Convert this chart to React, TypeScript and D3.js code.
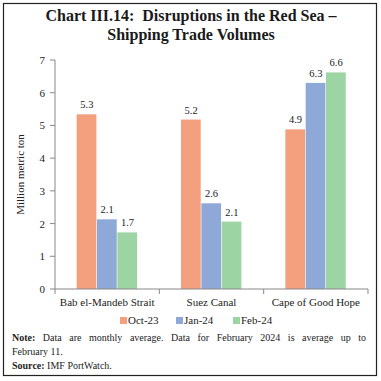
import React, { useMemo } from "react";
import * as d3 from "d3";

const categories = ["Bab el-Mandeb Strait", "Suez Canal", "Cape of Good Hope"];
const seriesNames = ["Oct-23", "Jan-24", "Feb-24"];
const oct23 = [5.34, 5.18, 4.88];
const jan24 = [2.13, 2.62, 6.3];
const feb24 = [1.73, 2.06, 6.62];
const labelsOct = ["5.3", "5.2", "4.9"];
const labelsJan = ["2.1", "2.6", "6.3"];
const labelsFeb = ["1.7", "2.1", "6.6"];
const yTicks = [0, 1, 2, 3, 4, 5, 6, 7];
const colors = ["#F4A07F", "#8EA9D8", "#9DD4A4"];

const W = 381;
const H = 381;
const left = 55;
const right = 368;
const top = 60;
const bottom = 289;
const font = "'Liberation Serif', 'DejaVu Serif', serif";
const noteRest = " Data are monthly average. Data for February 2024 is average up to";

export default function App() {
  const series = [oct23, jan24, feb24];
  const labels = [labelsOct, labelsJan, labelsFeb];
  const x0 = d3.scaleBand<string>().domain(categories).range([left, right]).paddingInner(0).paddingOuter(0);
  const y = d3.scaleLinear().domain([0, 7]).range([bottom, top]);
  const groupW = 61;
  const x1 = d3.scaleBand<string>().domain(seriesNames).range([0, groupW]).padding(0);
  const bw = x0.bandwidth();
  const legendX = [120, 176, 233];

  const wordSpacing = useMemo(() => {
    try {
      const c = document.createElement("canvas").getContext("2d");
      if (!c) return 2.5;
      c.font = "bold 10px 'Liberation Serif'";
      const wb = c.measureText("Note:").width;
      c.font = "10px 'Liberation Serif'";
      const wr = c.measureText(noteRest).width;
      const spaces = (noteRest.match(/ /g) || []).length;
      return Math.max(0, (354 - wb - wr) / spaces);
    } catch (e) {
      return 2.5;
    }
  }, []);

  return (
    <svg width={W} height={H} style={{ position: "absolute", left: 0, top: 0, background: "#fff" }}>
      <rect x={3.5} y={3.5} width={373} height={372} fill="#fff" stroke="#222" strokeWidth={1.2} />
      <text x={191} y={21} textAnchor="middle" fontFamily={font} fontWeight="bold" fontSize={16} fill="#1a1a1a" style={{ whiteSpace: "pre" }}>
        Chart III.14:  Disruptions in the Red Sea –
      </text>
      <text x={191} y={40} textAnchor="middle" fontFamily={font} fontWeight="bold" fontSize={16} fill="#1a1a1a">
        Shipping Trade Volumes
      </text>

      {series.map((vals, si) =>
        categories.map((c, ci) => {
          const gx = (x0(c) as number) + (bw - groupW) / 2;
          const bx = gx + (x1(seriesNames[si]) as number);
          return (
            <g key={`${si}-${ci}`}>
              <rect x={bx} y={y(vals[ci])} width={x1.bandwidth() - 0.6} height={bottom - y(vals[ci])} fill={colors[si]} />
              <text x={bx + x1.bandwidth() / 2} y={y(vals[ci]) - 6} textAnchor="middle" fontFamily={font} fontSize={10.5} fill="#222">
                {labels[si][ci]}
              </text>
            </g>
          );
        })
      )}

      {/* y axis */}
      <line x1={left} x2={left} y1={top} y2={bottom} stroke="#888" strokeWidth={1} />
      {yTicks.map((t) => (
        <g key={t}>
          <line x1={left - 5} x2={left} y1={y(t)} y2={y(t)} stroke="#888" />
          <text x={left - 10} y={y(t) + 4} textAnchor="end" fontFamily={font} fontSize={11} fill="#222">
            {t}
          </text>
        </g>
      ))}
      <text transform={`translate(24,${(top + bottom) / 2}) rotate(-90)`} textAnchor="middle" fontFamily={font} fontSize={11} fill="#222">
        Million metric ton
      </text>

      {/* x axis */}
      <line x1={left} x2={right} y1={bottom} y2={bottom} stroke="#888" />
      {[...categories.map((c) => x0(c) as number), right].map((v, i) => (
        <line key={i} x1={v} x2={v} y1={bottom} y2={bottom + 5} stroke="#888" />
      ))}
      {categories.map((c) => (
        <text key={c} x={(x0(c) as number) + bw / 2} y={306} textAnchor="middle" fontFamily={font} fontSize={11} fill="#222">
          {c}
        </text>
      ))}

      {/* legend */}
      {seriesNames.map((s, i) => (
        <g key={s}>
          <rect x={legendX[i]} y={317} width={7} height={7} fill={colors[i]} />
          <text x={legendX[i] + 8} y={324} fontFamily={font} fontSize={11} fill="#222">
            {s}
          </text>
        </g>
      ))}

      {/* notes */}
      <text x={12} y={341} fontFamily={font} fontSize={10} fill="#222" style={{ wordSpacing: `${wordSpacing}px`, whiteSpace: "pre" }}>
        <tspan fontWeight="bold">Note:</tspan>{noteRest}
      </text>
      <text x={12} y={355} fontFamily={font} fontSize={10} fill="#222">
        February 11.
      </text>
      <text x={12} y={369} fontFamily={font} fontSize={10} fill="#222">
        <tspan fontWeight="bold">Source:</tspan> IMF PortWatch.
      </text>
    </svg>
  );
}
